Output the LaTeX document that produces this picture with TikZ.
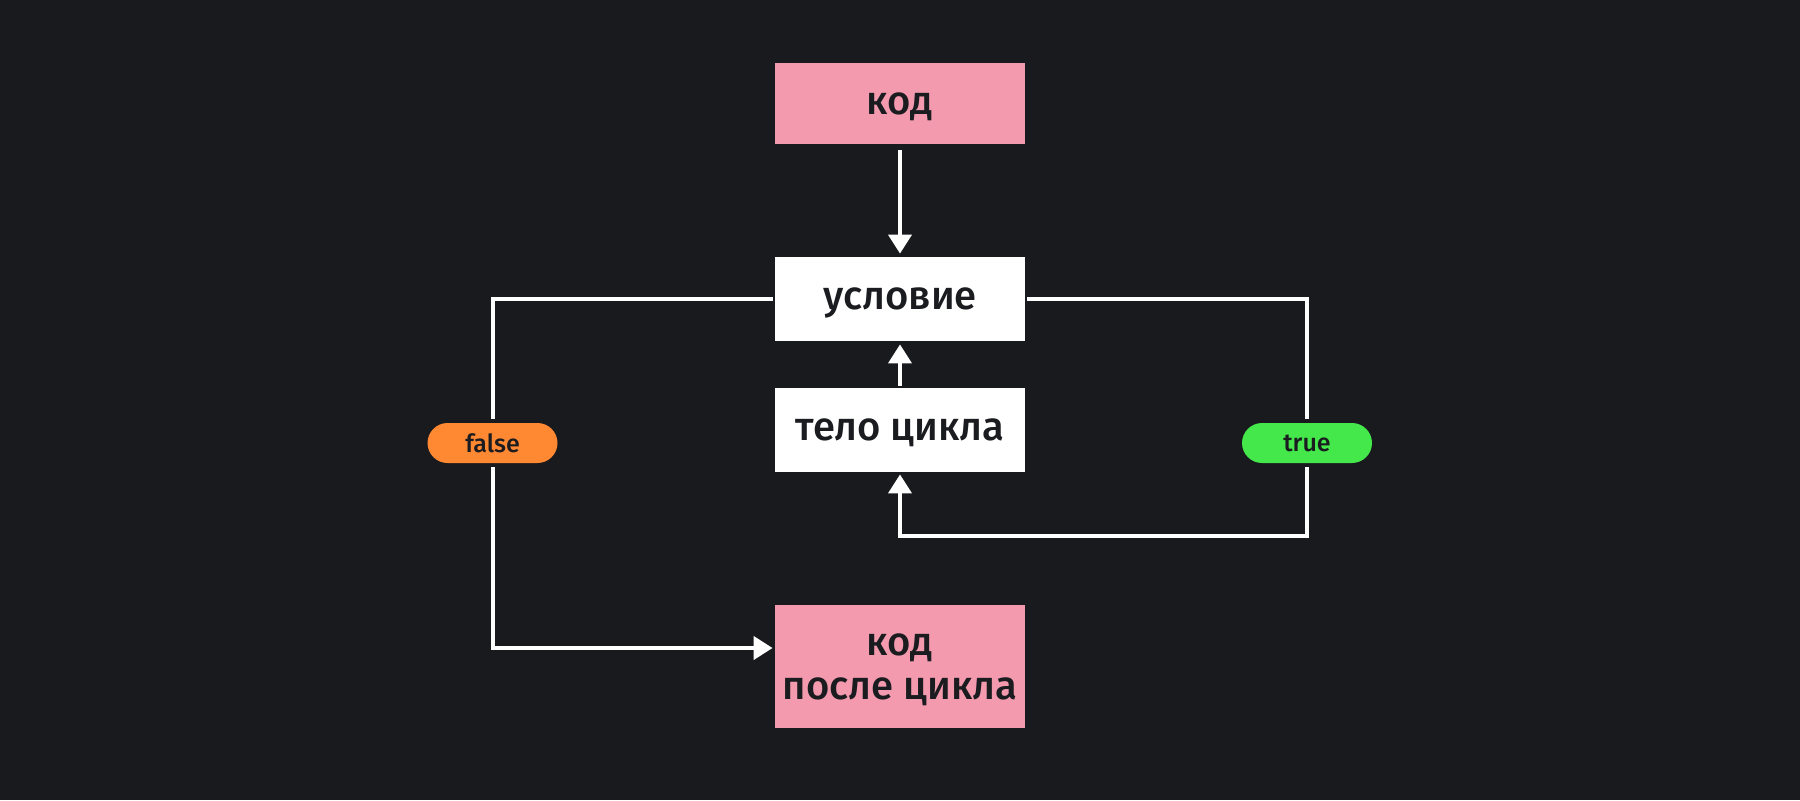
\documentclass[tikz,border=0pt]{standalone}
\usepackage{fontspec}
\setmainfont{Fira Sans}[BoldFont={* Medium}]
\usepackage{tikz}
\usetikzlibrary{arrows.meta}
\usepackage{color}
\definecolor{bgdark}{RGB}{25, 26, 30}
\definecolor{rosepink}{RGB}{244, 154, 175}
\definecolor{pumpkin}{RGB}{255, 136, 51}
\definecolor{lime}{RGB}{68, 232, 75}
\definecolor{inkdark}{RGB}{27, 28, 32}
\tikzset{
    block/.style={draw=none, minimum width=125pt, inner sep=0pt, text=inkdark, text depth=0pt,
                  align=center, font=\bfseries\fontsize{20}{22}\selectfont},
    pill/.style={rounded corners=10pt, minimum width=65pt, minimum height=20pt, inner sep=0pt,
                 outer sep=2pt, text=inkdark, font=\bfseries\fontsize{12.5}{14}\selectfont},
    wire/.style={draw=white, line width=2pt},
    flow/.style={wire, -{Triangle[width=11.5pt, length=9.5pt]}},
}

\begin{document}
\begin{tikzpicture}[x=0.5pt, y=-0.5pt]
            \fill[bgdark] (0,0) rectangle (1800,800);
            \useasboundingbox (0,0) rectangle (1800,800);
            % boxes
            \node[block, fill=rosepink, minimum height=40.5pt] (code)  at ( 900, 103.5) {код};
            \node[block, fill=white,    minimum height=42pt]   (cond)  at ( 900, 299)   {условие};
            \node[block, fill=white,    minimum height=42pt]   (body)  at ( 900, 430)   {тело цикла};
            \node[block, fill=rosepink, minimum height=61.5pt] (after) at ( 900, 666.5) {код\\после цикла};
            % labels
            \node[pill, fill=pumpkin] (false) at ( 492.5, 443) {false};
            \node[pill, fill=lime]    (true)  at (1307,   443) {true};
            \coordinate (back) at (900, 536);
            % connectors
            \draw[flow, shorten <=3pt, shorten >=1.5pt] (code) -- (cond);
            \draw[flow, shorten <=1pt, shorten >=1.5pt] (body) -- (cond);
            \draw[wire, shorten <=1pt] (cond.west) -| (false);
            \draw[flow, shorten >=1pt] (false) |- ([yshift=9.25pt]after.west);
            \draw[wire, shorten <=1pt] (cond.east) -| (true);
            \draw[flow, shorten >=1pt] (true) |- (back) -- (body);
        \end{tikzpicture}
\end{document}
